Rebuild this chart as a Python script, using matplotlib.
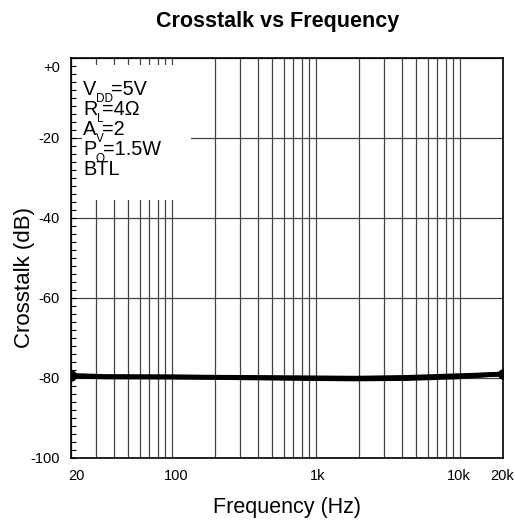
import matplotlib
matplotlib.use("Agg")
import matplotlib.pyplot as plt
from matplotlib.ticker import FixedLocator, LogLocator, MultipleLocator, NullFormatter
from matplotlib.transforms import ScaledTranslation
from matplotlib.patches import Rectangle

plt.rcParams["font.family"] = ["Liberation Sans", "DejaVu Sans"]

# Measured crosstalk, two channel directions
freq_hz = [20, 35, 100, 300, 870, 1900, 4300, 9500, 20000]
crosstalk_a = [-79.4, -79.7, -79.8, -80.0, -80.2, -80.3, -80.2, -79.8, -79.0]
crosstalk_b = [-79.6, -79.8, -79.8, -79.9, -80.0, -80.1, -79.9, -79.5, -79.1]

x_ticks = [20, 100, 1000, 10000, 20000]
x_tick_labels = ["20", "100", "1k", "10k", "20k"]
y_ticks = [-100, -80, -60, -40, -20, 0]
y_tick_labels = ["-100", "-80", "-60", "-40", "-20", "+0"]

# Test conditions: (text, is_subscript) pieces per line
conditions = [
    [("V", False), ("DD", True), ("=5V", False)],
    [("R", False), ("L", True), ("=4Ω", False)],
    [("A", False), ("V", True), ("=2", False)],
    [("P", False), ("O", True), ("=1.5W", False)],
    [("BTL", False)],
]

W, H, DPI = 515, 523, 100
fig = plt.figure(figsize=(W / DPI, H / DPI), dpi=DPI)
ax = fig.add_axes([71 / W, 1 - 457.7 / H, 432 / W, 399.7 / H])

for series in (crosstalk_a, crosstalk_b):
    ax.plot(freq_hz, series, color="black", lw=3.4, solid_capstyle="round",
            solid_joinstyle="round", marker="o", markersize=6.5, markevery=[0, -1],
            zorder=5)

ax.set_xscale("log")
ax.set_xlim(20, 20000)
ax.set_ylim(-100, 0)

ax.xaxis.set_major_locator(FixedLocator(x_ticks))
ax.set_xticklabels(x_tick_labels)
ax.xaxis.set_minor_locator(LogLocator(base=10, subs=range(1, 10), numticks=20))
ax.xaxis.set_minor_formatter(NullFormatter())
ax.tick_params(axis="x", which="both", length=0, labelsize=10.5, pad=8)

ax.yaxis.set_major_locator(FixedLocator(y_ticks))
ax.set_yticklabels(y_tick_labels)
ax.yaxis.set_minor_locator(MultipleLocator(2))
ax.tick_params(axis="y", which="both", direction="in", length=3.5, width=0.8,
               labelsize=10.5, pad=8)

ax.grid(True, axis="x", which="both", color="#444444", lw=0.9)
ax.grid(True, axis="y", which="major", color="#444444", lw=0.9)

# Small horizontal shifts of the frequency labels (in pixels)
x_label_shift = [5, 5, 2, -1, -1]
for lab, dx in zip(ax.get_xticklabels(), x_label_shift):
    lab.set_transform(lab.get_transform()
                      + ScaledTranslation(dx / DPI, 0, fig.dpi_scale_trans))

# Nudge the top label down so it sits inside the frame
top_label = ax.get_yticklabels()[-1]
top_label.set_transform(top_label.get_transform()
                        + ScaledTranslation(0, -8 / DPI, fig.dpi_scale_trans))

for sp in ax.spines.values():
    sp.set_color("black")
    sp.set_linewidth(1.2)
    sp.set_zorder(6)

# White panel behind the test conditions
ax.add_patch(Rectangle(((82 - 71) / 432, (457.7 - 200) / 399.7),
                       (191 - 82) / 432, (200 - 65) / 399.7,
                       transform=ax.transAxes, facecolor="white",
                       edgecolor="none", zorder=3))

renderer = fig.canvas.get_renderer()
baselines = [95, 115, 135, 155, 175]
for pieces, base in zip(conditions, baselines):
    x = 83
    for txt, is_sub in pieces:
        y = base + (7 if is_sub else 0)
        t = fig.text(x / W, 1 - y / H, txt, fontsize=8.5 if is_sub else 14.3,
                     ha="left", va="baseline", zorder=4)
        x += t.get_window_extent(renderer).width - (1.5 if is_sub else 0.5)

ax.set_title("Crosstalk vs Frequency", fontsize=15.5, fontweight="bold",
             x=(278 - 71) / 432, pad=22)
ax.set_xlabel("Frequency (Hz)", fontsize=15.5, labelpad=10)
ax.set_ylabel("Crosstalk (dB)", fontsize=16)
ax.yaxis.set_label_coords((35 - 71) / 432, (457.7 - 278) / 399.7)

fig.savefig("out.png", dpi=DPI)
